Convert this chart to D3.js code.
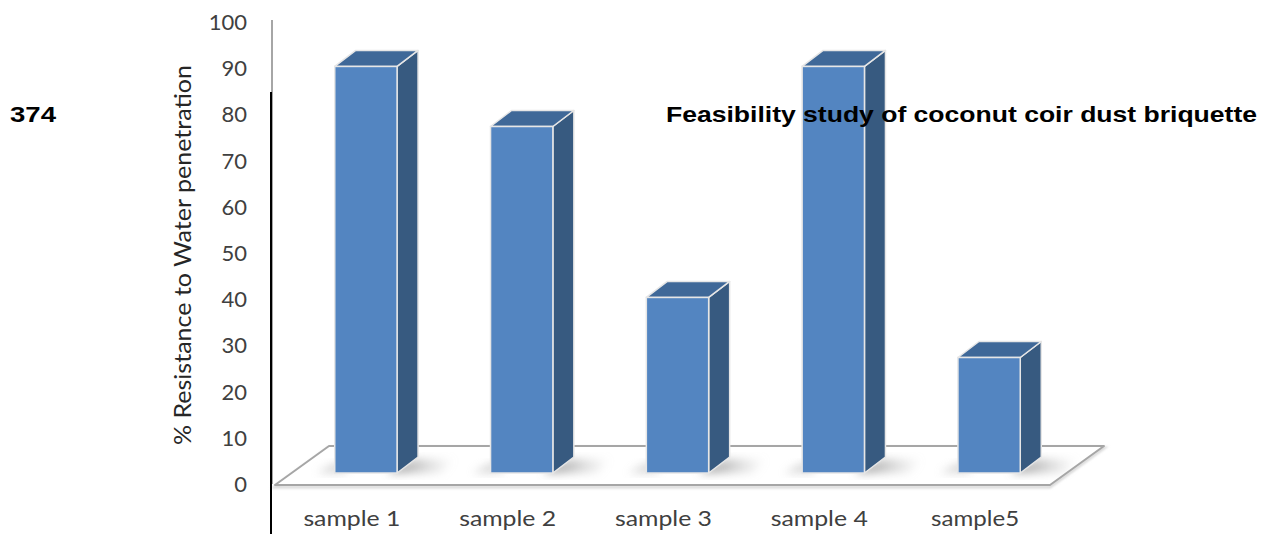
<!DOCTYPE html>
<html>
<head>
<meta charset="utf-8">
<script src="https://cdn.jsdelivr.net/npm/d3@7/dist/d3.min.js"></script>
<style>
  html, body { margin: 0; padding: 0; background: #fff; }
  svg { display: block; }
</style>
</head>
<body>
<svg id="chart" width="1262" height="534"></svg>
<script>
// Resistance to water penetration per briquette sample
const categories = ["sample 1", "sample 2", "sample 3", "sample 4", "sample5"];
const resistance = [88, 75, 38, 88, 25];
const yTicks = [0, 10, 20, 30, 40, 50, 60, 70, 80, 90, 100];

const svg = d3.select("#chart");
const W = 1262, H = 534;

// 3D geometry of the column plot
const depth = { dx: 21, dy: -16 };          // offset from front face to back face
const floor = { front: 485, back: 446, left: 275, right: 1050, shift: 54 };
const barBase = 473;                          // bars stand inside the floor depth

const yAxis = d3.scaleLinear().domain([0, 100]).range([484, 22]);
const yBar = d3.scaleLinear().domain([0, 100]).range([barBase, barBase - (484 - 22)]);
const x = d3.scaleBand().domain(categories).range([288, 1067])
  .paddingInner(0.6).paddingOuter(0.3);

const defs = svg.append("defs");
defs.append("filter").attr("id", "soft").attr("x", "-50%").attr("y", "-50%")
  .attr("width", "200%").attr("height", "200%")
  .append("feGaussianBlur").attr("stdDeviation", 4);
defs.append("filter").attr("id", "edgeBlur")
  .append("feGaussianBlur").attr("stdDeviation", 1);
const grad = defs.append("linearGradient").attr("id", "shadowGrad")
  .attr("x1", 0).attr("x2", 1).attr("y1", 0).attr("y2", 0);
grad.append("stop").attr("offset", 0).attr("stop-color", "#808080").attr("stop-opacity", 0.95);
grad.append("stop").attr("offset", 1).attr("stop-color", "#bfbfbf").attr("stop-opacity", 0);

// Floor of the plot area
const floorPts = [
  [floor.left, floor.front], [floor.right, floor.front],
  [floor.right + floor.shift, floor.back], [floor.left + floor.shift, floor.back]
];
svg.append("polygon")
  .attr("points", floorPts.map(p => p.join(",")).join(" "))
  .attr("transform", "translate(0,2)")
  .attr("fill", "none").attr("stroke", "#d9d9d9").attr("stroke-width", 3)
  .attr("filter", "url(#edgeBlur)");
svg.append("polygon")
  .attr("points", floorPts.map(p => p.join(",")).join(" "))
  .attr("fill", "#ffffff").attr("stroke", "#a6a6a6").attr("stroke-width", 2)
  .attr("stroke-linejoin", "round");

// Value axis line
svg.append("line")
  .attr("x1", 272).attr("x2", 272).attr("y1", yAxis(100) - 2).attr("y2", yAxis(0))
  .attr("stroke", "#a6a6a6").attr("stroke-width", 2);

// Tick labels
svg.append("g").selectAll("text").data(yTicks).join("text")
  .attr("x", 247).attr("y", d => yAxis(d))
  .attr("dy", "0.36em")
  .attr("text-anchor", "end")
  .attr("font-family", "Lato, 'Open Sans', sans-serif")
  .attr("font-size", 22)
  .attr("fill", "#404040")
  .text(d => d);

// Axis title
svg.append("text")
  .attr("transform", `translate(191,${(yAxis(0) + yAxis(100)) / 2 + 2}) rotate(-90)`)
  .attr("text-anchor", "middle")
  .attr("font-family", "Lato, 'Open Sans', sans-serif")
  .attr("font-size", 23)
  .attr("textLength", 380)
  .attr("lengthAdjust", "spacingAndGlyphs")
  .attr("fill", "#262626")
  .text("% Resistance to Water penetration");

// Columns
const bars = svg.append("g").selectAll("g").data(categories.map((c, i) => ({ c, v: resistance[i] })))
  .join("g");

// soft floor shadow at each column's base
bars.append("polygon")
  .attr("points", d => {
    const x0 = x(d.c) + x.bandwidth(), yb = barBase;
    return [[x0 - 10, yb], [x0 + 45, yb], [x0 + 58, yb - 14], [x0 + depth.dx - 4, yb - 14]]
      .map(p => p.join(",")).join(" ");
  })
  .attr("fill", "url(#shadowGrad)")
  .attr("filter", "url(#soft)");
bars.append("polygon")
  .attr("points", d => {
    const x0 = x(d.c) - 18, yb = barBase;
    return [[x0, yb], [x0 + 30, yb], [x0 + 30, yb - 10], [x0 + 18, yb - 10]]
      .map(p => p.join(",")).join(" ");
  })
  .attr("fill", "#bfbfbf").attr("opacity", 0.6)
  .attr("filter", "url(#soft)");

const face = (pts) => pts.map(p => p.join(",")).join(" ");

// side face
bars.append("polygon")
  .attr("points", d => {
    const x1 = x(d.c) + x.bandwidth(), yt = yBar(d.v), yb = barBase;
    return face([[x1, yt], [x1 + depth.dx, yt + depth.dy], [x1 + depth.dx, yb + depth.dy], [x1, yb]]);
  })
  .attr("fill", "#375a80").attr("stroke", "#e6e6e6").attr("stroke-width", 1.5)
  .attr("stroke-linejoin", "round");

// top face
bars.append("polygon")
  .attr("points", d => {
    const x0 = x(d.c), x1 = x0 + x.bandwidth(), yt = yBar(d.v);
    return face([[x0, yt], [x1, yt], [x1 + depth.dx, yt + depth.dy], [x0 + depth.dx, yt + depth.dy]]);
  })
  .attr("fill", "#3f6898").attr("stroke", "#e6e6e6").attr("stroke-width", 1.5)
  .attr("stroke-linejoin", "round");

// front face
bars.append("rect")
  .attr("x", d => x(d.c))
  .attr("y", d => yBar(d.v))
  .attr("width", x.bandwidth())
  .attr("height", d => barBase - yBar(d.v))
  .attr("fill", "#5385c1").attr("stroke", "#e6e6e6").attr("stroke-width", 1.5);

// Category labels along the front edge of the floor
svg.append("g").selectAll("text").data(categories).join("text")
  .attr("x", d => x(d) + x.bandwidth() / 2 - 14)
  .attr("y", 526)
  .attr("text-anchor", "middle")
  .attr("font-family", "Lato, 'Open Sans', sans-serif")
  .attr("font-size", 21)
  .attr("textLength", d => d === "sample5" ? 88 : 97)
  .attr("lengthAdjust", "spacingAndGlyphs")
  .attr("fill", "#404040")
  .text(d => d);

// Page margin rule and running header
svg.append("line")
  .attr("x1", 271).attr("x2", 271).attr("y1", 92).attr("y2", H)
  .attr("stroke", "#000").attr("stroke-width", 2);

svg.append("text")
  .attr("x", 10).attr("y", 122)
  .attr("font-family", "'Liberation Sans', Arial, sans-serif")
  .attr("font-weight", "bold").attr("font-size", 22)
  .attr("textLength", 46)
  .attr("lengthAdjust", "spacingAndGlyphs")
  .attr("fill", "#000")
  .text("374");
svg.append("text")
  .attr("x", 666).attr("y", 122)
  .attr("font-family", "'Liberation Sans', Arial, sans-serif")
  .attr("font-weight", "bold").attr("font-size", 22)
  .attr("textLength", 591)
  .attr("lengthAdjust", "spacingAndGlyphs")
  .attr("fill", "#000")
  .text("Feasibility study of coconut coir dust briquette");
</script>
</body>
</html>
